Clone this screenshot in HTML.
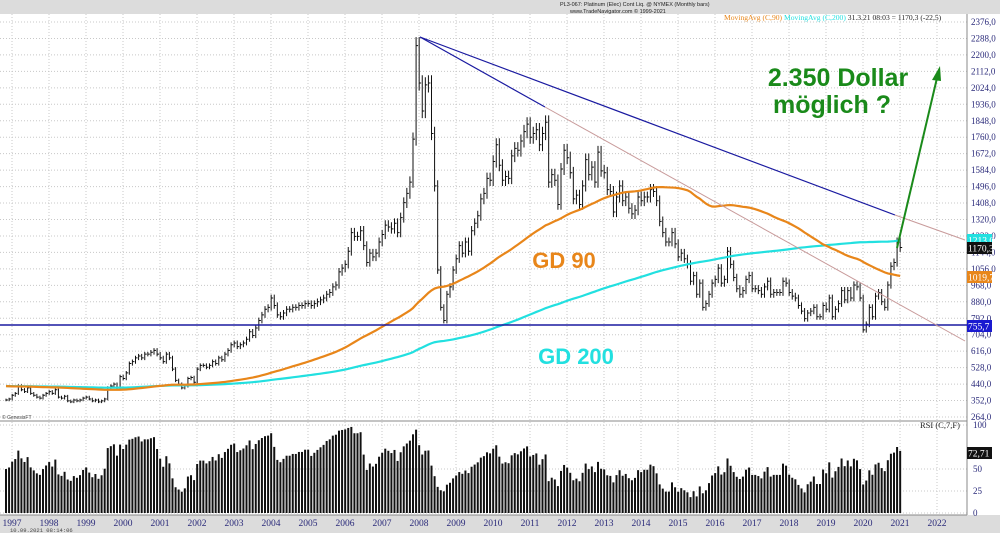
<!DOCTYPE html>
<html><head><meta charset="utf-8"><style>
html,body{margin:0;padding:0;background:#fff;}
body{width:1000px;height:533px;overflow:hidden;font-family:"Liberation Serif",serif;}
svg{display:block}
</style></head><body>
<svg id="chart" width="1000" height="533" viewBox="0 0 1000 533" xmlns="http://www.w3.org/2000/svg">
<rect x="0" y="0" width="1000" height="14" fill="#dcdcdc"/>
<text x="560" y="6" font-family="Liberation Sans, sans-serif" font-size="5.5" fill="#222">PL3-067: Platinum (Elec) Cont Liq. @ NYMEX (Monthly bars)</text>
<text x="570" y="13" font-family="Liberation Sans, sans-serif" font-size="5.5" fill="#222">www.TradeNavigator.com © 1999-2021</text>
<rect x="0" y="515" width="1000" height="18" fill="#dcdcdc"/>
<rect x="967" y="14" width="33" height="501" fill="#fff"/>
<g id="grid"></g>
<g id="marks"></g>
<g id="overlay"></g>
</svg>
<script>
const years = ["1997","1998","1999","2000","2001","2002","2003","2004","2005","2006","2007","2008","2009","2010","2011","2012","2013","2014","2015","2016","2017","2018","2019","2020","2021","2022"];
const priceTicks = [2376,2288,2200,2112,2024,1936,1848,1760,1672,1584,1496,1408,1320,1232,1144,1056,968,880,792,704,616,528,440,352,264];
const rsiTicks = [0,25,50,100];
const priorAvg = 430;
const closes = [
355,360,380,390,430,410,400,420,390,380,370,365,
380,390,400,390,410,370,365,375,350,345,355,350,
355,365,370,360,350,355,345,350,360,420,430,440,
420,480,470,500,550,560,580,590,580,600,600,610,
620,600,580,560,600,580,520,460,440,420,430,470,
475,450,520,540,540,530,540,560,550,580,570,600,
620,650,660,640,650,660,680,720,700,740,780,810,
840,850,900,860,810,800,820,840,840,850,850,860,
860,870,870,860,870,880,890,900,920,930,960,970,
1040,1060,1080,1150,1250,1230,1230,1260,1180,1090,1140,1120,
1140,1200,1240,1290,1280,1270,1300,1250,1330,1410,1460,1520,
1750,2250,2050,1900,2040,2050,1780,1500,1050,850,780,920,
960,1050,1110,1180,1140,1200,1150,1260,1300,1340,1430,1460,
1540,1530,1630,1720,1610,1530,1550,1540,1660,1700,1690,1740,
1790,1830,1760,1780,1800,1720,1780,1840,1520,1560,1530,1400,
1590,1690,1650,1570,1430,1450,1400,1500,1640,1560,1600,1520,
1680,1580,1570,1480,1470,1360,1440,1500,1420,1440,1380,1350,
1370,1440,1420,1440,1440,1480,1470,1420,1310,1250,1200,1200,
1250,1190,1120,1140,1110,1080,990,1020,920,980,850,870,
920,980,1000,1060,980,1000,1150,1080,1010,950,920,940,
1000,1020,950,950,940,920,960,990,920,930,930,930,
990,980,930,910,900,860,830,790,820,830,850,800,
800,860,840,900,800,840,870,940,890,940,900,970,
960,900,730,760,850,800,910,930,880,850,970,1070,
1090,1200,1170.3];
const NS="http://www.w3.org/2000/svg";
const xM = i => 6 + i*37/12;
const xYear = k => 12 + k*37;
const yP = p => 417 - (p-264)*(395/2112);
const yR = r => 513 - r*0.88;
function mk(tag, attrs, parent){const e=document.createElementNS(NS,tag);for(const k in attrs)e.setAttribute(k,attrs[k]);parent.appendChild(e);return e;}
const grid=document.getElementById('grid'), marks=document.getElementById('marks'), ov=document.getElementById('overlay');
priceTicks.forEach(t=>{const y=yP(t);
 const l=mk('line',{x1:0,x2:967,y1:y,y2:y,stroke:'#c8c8c8','stroke-dasharray':'1,2'},grid);
 
 
 const tx=mk('text',{x:971,y:y+3,'font-size':9,fill:'#2a2a7a'},grid);tx.textContent=t.toFixed(1).replace('.',',');
 
 
});
rsiTicks.forEach(t=>{const y=yR(t);
 const tx=mk('text',{x:973,y:y+3,'font-size':9,fill:'#2a2a7a'},grid);tx.textContent=t;
 
 
 const l=mk('line',{x1:0,x2:967,y1:y,y2:y,stroke:'#c8c8c8','stroke-dasharray':'1,2'},grid);
 
 
});
years.forEach((yr,k)=>{const x=xYear(k);
 const l=mk('line',{x1:x,x2:x,y1:14,y2:515,stroke:'#c8c8c8','stroke-dasharray':'1,2'},grid);
 
 
 const tx=mk('text',{x:x,y:526,'font-size':9.5,fill:'#2a2a7a','text-anchor':'middle'},grid);tx.textContent=yr;
 
 
});
[[967,14,967,515],[0,421,967,421],[0,515,967,515]].forEach(a=>{const l=mk('line',{x1:a[0],y1:a[1],x2:a[2],y2:a[3],stroke:'#888'},grid);
 
 });
closes.forEach((c,i)=>{const o=i?closes[i-1]:c;const hi=Math.max(o,c)*1.02,lo=Math.min(o,c)*0.98;const x=xM(i);
 const b=mk('path',{d:`M${x},${yP(hi)}V${yP(lo)}M${x},${yP(c)}h2`,stroke:'#111','stroke-width':1,fill:'none'},marks);
 
 
});
function sma(n){return closes.map((c,i)=>{let s=0;for(let j=i-n+1;j<=i;j++)s+=j>=0?closes[j]:priorAvg;return s/n;});}
const ma90=sma(90), ma200=sma(200);
const p200=mk('polyline',{points:ma200.map((v,i)=>xM(i)+','+yP(v)).join(' '),fill:'none',stroke:'#22e0e0','stroke-width':2.2},marks);


const p90=mk('polyline',{points:ma90.map((v,i)=>xM(i)+','+yP(v)).join(' '),fill:'none',stroke:'#e8861a','stroke-width':2.2},marks);


const rsi=[];const RP=8;let ag=10,al=10;
closes.forEach((c,i)=>{if(i===0){rsi.push(50);return;}const d=c-closes[i-1];const g=Math.max(d,0),l=Math.max(-d,0);
 ag=(ag*(RP-1)+g)/RP;al=(al*(RP-1)+l)/RP;
 rsi.push(al===0?100:100-100/(1+ag/al));});
rsi.forEach((r,i)=>{const b=mk('rect',{x:xM(i)-1,y:yR(r),width:2,height:yR(0)-yR(r),fill:'#111'},marks);
 
 });
const last=closes[closes.length-1];
function line(a,c,w,name){const l=mk('line',{x1:a[0],y1:a[1],x2:a[2],y2:a[3],stroke:c,'stroke-width':w},ov);return l;}
line([0,325,967,325],'#1a1aa0',1.5,'support-line');
line([420,37,895,215],'#1a1aa0',1.2,'upper-trendline');
line([895,215,965,240],'#c89a9a',1,'upper-trendline-extension');
line([420,37,545,107],'#1a1aa0',1.2,'lower-trendline');
line([545,107,965,341],'#c89a9a',1,'lower-trendline-extension');
line([897,248,937,78],'#1a8a1a',2,'target-arrow');
const ah=mk('polygon',{points:'940,66 932,80 941,81',fill:'#1a8a1a'},ov);


function txt(x,y,s,fs,fill,t,name,extra){const e=mk('text',Object.assign({x:x,y:y,'font-size':fs,fill:fill,'font-family':'Liberation Sans, sans-serif','font-weight':'bold','text-anchor':'middle'},extra||{}),ov);e.textContent=t;return e;}
txt(838,86,0,25,'#1a8a1a','2.350 Dollar','target-annotation-line1');
txt(832,113,0,25,'#1a8a1a','möglich ?','target-annotation-line2');
txt(564,268,0,22,'#e8861a','GD 90','gd90-label');
txt(576,364,0,22,'#22e0e0','GD 200','gd200-label');
function tag(y,bg,fg,t,name){const r=mk('rect',{x:967,y:y-6,width:25,height:12,fill:bg},ov);
 const e=mk('text',{x:968,y:y+3.5,'font-size':9.5,fill:fg},ov);e.textContent=t;}
tag(240,'#22e0e0','#fff','1213,0','ma200-value-tag');
tag(248,'#111','#fff',last.toFixed(1).replace('.',','),'last-price-tag');
tag(277,'#e8861a','#fff','1019,7','ma90-value-tag');
tag(326,'#1a1ad0','#fff','755,7','support-value-tag');
tag(453,'#111','#fff','72,71','rsi-value-tag');
const lg=mk('text',{x:724,y:20,'font-size':7.6},ov);


lg.innerHTML='<tspan fill="#e8861a">MovingAvg (C,90)</tspan> <tspan fill="#22e0e0">MovingAvg (C,200)</tspan> <tspan fill="#222">31.3.21 08:03 = 1170,3 (-22,5)</tspan>';
const rl=mk('text',{x:920,y:428,'font-size':8.5,fill:'#222'},ov);rl.textContent='RSI (C,7,F)';


const gf=mk('text',{x:2,y:419,'font-size':5,fill:'#444','font-family':'Liberation Sans, sans-serif'},ov);gf.textContent='© GenesisFT';


const ts=mk('text',{x:10,y:532,'font-size':5.5,fill:'#444','font-family':'Liberation Mono, monospace'},ov);ts.textContent='10.09.2021 08:14:06';


</script>
</body></html>
